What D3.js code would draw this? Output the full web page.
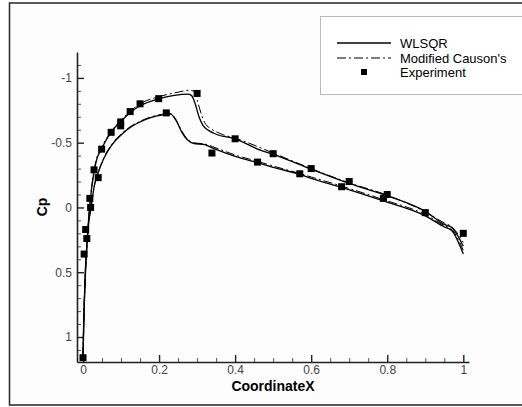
<!DOCTYPE html>
<html>

<head>
    <meta charset="UTF-8">
    <script src="https://d3js.org/d3.v7.min.js"></script>
    <style>
        body { margin: 0; background: #fff; }
        text { font-family: "Liberation Sans", Arial, sans-serif; }
    </style>
</head>

<body>
    <svg></svg>

    <script>
        let width = 522, height = 407;

        // Cp distributions, [x, Cp]
        const wlsqrUpper = [[0, 1.15], [0.002, 0.85], [0.005, 0.6], [0.009, 0.35], [0.014, 0.12], [0.019, -0.05],
            [0.027, -0.24], [0.035, -0.36], [0.05, -0.46], [0.075, -0.585], [0.1, -0.665], [0.125, -0.735],
            [0.15, -0.785], [0.2, -0.84], [0.24, -0.865], [0.275, -0.875], [0.285, -0.865], [0.295, -0.8],
            [0.305, -0.7], [0.315, -0.635], [0.33, -0.595], [0.35, -0.565], [0.4, -0.53], [0.468, -0.44],
            [0.5, -0.41], [0.6, -0.295], [0.7, -0.185], [0.8, -0.09], [0.9, 0.03], [0.95, 0.13], [0.97, 0.155], [1.0, 0.3]];
        const wlsqrLower = [[0, 1.15], [0.003, 0.8], [0.006, 0.5], [0.01, 0.3], [0.015, 0.12], [0.021, 0.0],
            [0.03, -0.17], [0.04, -0.27], [0.055, -0.38], [0.075, -0.48], [0.1, -0.56], [0.125, -0.62],
            [0.15, -0.66], [0.18, -0.695], [0.21, -0.715], [0.23, -0.72], [0.245, -0.67], [0.26, -0.58],
            [0.275, -0.52], [0.29, -0.495], [0.32, -0.485], [0.34, -0.46], [0.4, -0.395], [0.46, -0.345],
            [0.5, -0.31], [0.57, -0.255], [0.6, -0.225], [0.68, -0.155], [0.79, -0.05], [0.9, 0.065],
            [0.95, 0.15], [0.97, 0.18], [1.0, 0.36]];
        const causonUpper = [[0, 1.15], [0.002, 0.85], [0.005, 0.6], [0.009, 0.34], [0.014, 0.11], [0.019, -0.06],
            [0.027, -0.25], [0.035, -0.37], [0.05, -0.47], [0.075, -0.59], [0.1, -0.675], [0.125, -0.745],
            [0.15, -0.8], [0.2, -0.855], [0.25, -0.89], [0.28, -0.905], [0.29, -0.9], [0.3, -0.83],
            [0.31, -0.73], [0.32, -0.655], [0.335, -0.61], [0.35, -0.585], [0.37, -0.56], [0.4, -0.535],
            [0.5, -0.42], [0.6, -0.3], [0.7, -0.19], [0.8, -0.095], [0.9, 0.035], [0.95, 0.12], [0.97, 0.15], [1.0, 0.27]];
        const causonLower = [[0, 1.15], [0.003, 0.8], [0.006, 0.5], [0.01, 0.3], [0.015, 0.12], [0.021, 0.0],
            [0.03, -0.17], [0.04, -0.27], [0.055, -0.385], [0.075, -0.485], [0.1, -0.565], [0.125, -0.625],
            [0.15, -0.665], [0.18, -0.7], [0.21, -0.72], [0.23, -0.725], [0.245, -0.675], [0.26, -0.59],
            [0.275, -0.525], [0.29, -0.5], [0.32, -0.49], [0.34, -0.47], [0.4, -0.405], [0.46, -0.355],
            [0.5, -0.32], [0.57, -0.262], [0.6, -0.235], [0.68, -0.165], [0.79, -0.06], [0.9, 0.055],
            [0.95, 0.14], [0.97, 0.17], [1.0, 0.33]];
        const experiment = [[0, 1.16], [0.003, 0.36], [0.007, 0.17], [0.01, 0.24], [0.02, 0.0], [0.018, -0.07],
            [0.029, -0.29], [0.04, -0.23], [0.049, -0.45], [0.074, -0.58], [0.099, -0.66], [0.099, -0.63],
            [0.124, -0.74], [0.15, -0.8], [0.199, -0.84], [0.219, -0.73], [0.3, -0.88], [0.339, -0.42],
            [0.4, -0.53], [0.459, -0.35], [0.5, -0.415], [0.57, -0.26], [0.6, -0.3], [0.68, -0.16],
            [0.7, -0.2], [0.79, -0.07], [0.8, -0.1], [0.9, 0.04], [1.0, 0.2]];

        const xTicks = [0, 0.2, 0.4, 0.6, 0.8, 1];
        const yTicks = [-1, -0.5, 0, 0.5, 1];
        const legendNames = ["WLSQR", "Modified Causon's", "Experiment"];

        let svg = d3.select("svg")
            .attr("width", width)
            .attr("height", height);

        svg.append("rect").attr("width", width).attr("height", height).attr("fill", "#fff");

        // outer frame
        svg.append("rect")
            .attr("x", 9.5).attr("y", 3)
            .attr("width", 540).attr("height", 402)
            .attr("fill", "#fdfdfd")
            .attr("stroke", "#333")
            .attr("stroke-width", 1.6);

        let x = d3.scaleLinear().domain([-0.0158, 1.015]).range([77, 469]);
        let y = d3.scaleLinear().domain([-1.2, 1.193]).range([52, 362]);

        let line = d3.line()
            .x(d => x(d[0]))
            .y(d => y(d[1]))
            .curve(d3.curveMonotoneX);

        // minor ticks
        let minorX = d3.range(0, 1.001, 0.05).filter(v => Math.abs(v * 5 - Math.round(v * 5)) > 1e-6);
        let minorY = d3.range(-1.1, 1.15, 0.1).filter(v => Math.abs(v * 2 - Math.round(v * 2)) > 1e-6);

        svg.append("g")
            .attr("transform", "translate(0,362)")
            .call(d3.axisBottom(x).tickValues(minorX).tickSize(-4).tickFormat(""))
            .call(g => g.select(".domain").remove())
            .selectAll("line").attr("stroke", "#555");
        svg.append("g")
            .attr("transform", "translate(77,0)")
            .call(d3.axisLeft(y).tickValues(minorY).tickSize(-4).tickFormat(""))
            .call(g => g.select(".domain").remove())
            .selectAll("line").attr("stroke", "#555");

        let xAxis = svg.append("g")
            .attr("transform", "translate(0,362)")
            .call(d3.axisBottom(x).tickValues(xTicks).tickSize(-7).tickSizeOuter(0).tickPadding(5).tickFormat(d => String(d)));
        let yAxis = svg.append("g")
            .attr("transform", "translate(77,0)")
            .call(d3.axisLeft(y).tickValues(yTicks).tickSize(-7).tickSizeOuter(0).tickPadding(5).tickFormat(d => String(d)));

        [xAxis, yAxis].forEach(g => {
            g.select(".domain").attr("stroke", "#222").attr("stroke-width", 1.6);
            g.selectAll(".tick line").attr("stroke", "#222").attr("stroke-width", 1.4);
            g.selectAll("text").attr("fill", "#444").style("font-size", "12px")
                .style("font-family", "'Liberation Sans', Arial, sans-serif");
        });
        // tick labels just under the axis line
        xAxis.selectAll(".tick text").attr("y", 3.5);

        svg.append("text")
            .attr("x", 273).attr("y", 391)
            .attr("text-anchor", "middle")
            .style("font-size", "14px").style("font-weight", "bold")
            .text("CoordinateX");
        svg.append("text")
            .attr("transform", "translate(47,207) rotate(-90)")
            .attr("text-anchor", "middle")
            .style("font-size", "14px").style("font-weight", "bold")
            .text("Cp");

        // curves
        [wlsqrUpper, wlsqrLower].forEach(s => {
            svg.append("path").datum(s).attr("d", line)
                .attr("fill", "none").attr("stroke", "#000").attr("stroke-width", 1.3);
        });
        [causonUpper, causonLower].forEach(s => {
            svg.append("path").datum(s).attr("d", line)
                .attr("fill", "none").attr("stroke", "#000").attr("stroke-width", 1)
                .attr("stroke-dasharray", "9,3,2,3");
        });

        svg.append("g")
            .selectAll("rect")
            .data(experiment)
            .enter()
            .append("rect")
            .attr("x", d => x(d[0]) - 3.5)
            .attr("y", d => y(d[1]) - 3.5)
            .attr("width", 7).attr("height", 7)
            .attr("fill", "#000");

        // legend
        let legend = svg.append("g");
        legend.append("rect")
            .attr("x", 320.5).attr("y", 16.5)
            .attr("width", 240).attr("height", 78)
            .attr("fill", "#fff")
            .attr("stroke", "#bbb");
        let rowY = [43, 58, 72];
        legend.append("line").attr("x1", 337).attr("x2", 391).attr("y1", rowY[0]).attr("y2", rowY[0])
            .attr("stroke", "#000").attr("stroke-width", 1.3);
        legend.append("line").attr("x1", 337).attr("x2", 391).attr("y1", rowY[1]).attr("y2", rowY[1])
            .attr("stroke", "#000").attr("stroke-width", 1).attr("stroke-dasharray", "9,3,2,3");
        legend.append("rect").attr("x", 361).attr("y", rowY[2] - 3).attr("width", 6).attr("height", 6).attr("fill", "#000");
        legend.selectAll("text.lab")
            .data(legendNames)
            .enter()
            .append("text")
            .attr("class", "lab")
            .attr("x", 400)
            .attr("y", (d, i) => rowY[i] + 4.5)
            .style("font-size", "13px")
            .text(d => d);
    </script>

</body>

</html>
